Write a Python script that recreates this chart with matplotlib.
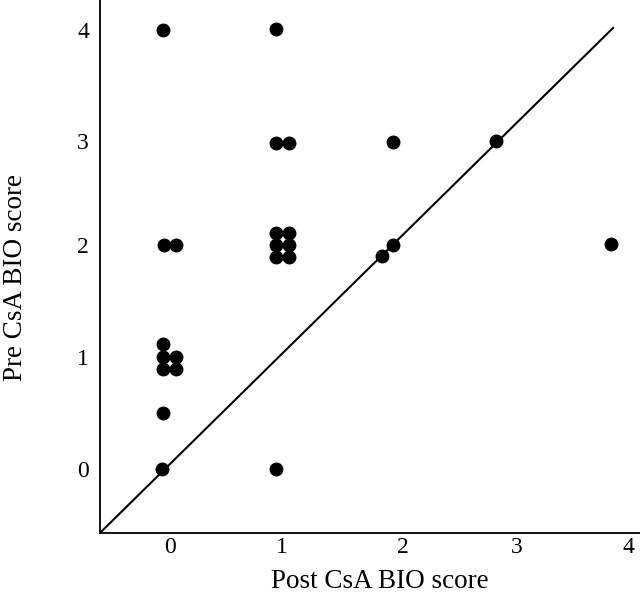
import matplotlib
matplotlib.use("Agg")
import matplotlib.pyplot as plt

# scores (small offsets keep overlapping patients apart)
post_score = [-0.06, 0.93,
              0.93, 1.04, 1.95, 2.85,
              -0.05, 0.05, 0.93, 1.04, 0.93, 1.04, 0.93, 1.04, 1.85, 1.95, 3.85,
              -0.06, -0.06, 0.05, -0.06, 0.05,
              -0.06,
              -0.07, 0.93]
pre_score = [3.99, 4.0,
             2.96, 2.96, 2.97, 2.98,
             2.04, 2.04, 2.15, 2.15, 2.04, 2.04, 1.93, 1.93, 1.94, 2.04, 2.05,
             1.14, 1.02, 1.02, 0.91, 0.91,
             0.51,
             0.0, 0.0]

# line of identity as drawn in the figure
diag_x = [-0.61, 3.87]
diag_y = [-0.58, 4.01]

ticks = [0, 1, 2, 3, 4]
x_tick_pos = [0, 0.98, 2.03, 3.03, 4.0]
y_tick_pos = [0, 1.02, 2.04, 2.98, 3.99]

plt.rcParams['font.family'] = ['Liberation Serif', 'DejaVu Serif']

fig = plt.figure(figsize=(6.4, 5.99), dpi=100)
ax = fig.add_axes([0.15625, 0.1102, 0.84375, 0.8898])

ax.plot(diag_x, diag_y, color='black', linewidth=1.5)
ax.plot(post_score, pre_score, 'o', color='black', markersize=9, zorder=3)

ax.set_xlim(-0.611, 4.105)
ax.set_ylim(-0.582, 4.264)

ax.set_xticks(x_tick_pos)
ax.set_xticklabels([str(t) for t in ticks])
ax.set_yticks(y_tick_pos)
ax.set_yticklabels([str(t) for t in ticks])
ax.tick_params(axis='both', length=0, labelsize=17)
ax.tick_params(axis='x', pad=3)
ax.tick_params(axis='y', pad=8)

for side in ['top', 'right']:
    ax.spines[side].set_visible(False)
for side in ['left', 'bottom']:
    ax.spines[side].set_linewidth(1.3)

ax.set_xlabel('Post CsA BIO score', fontsize=19.5, labelpad=8)
ax.set_ylabel('Pre CsA BIO score', fontsize=19.5, labelpad=35)
ax.xaxis.label.set_x(0.5185)
ax.yaxis.label.set_y(0.48)

fig.savefig('out.png', dpi=100)
